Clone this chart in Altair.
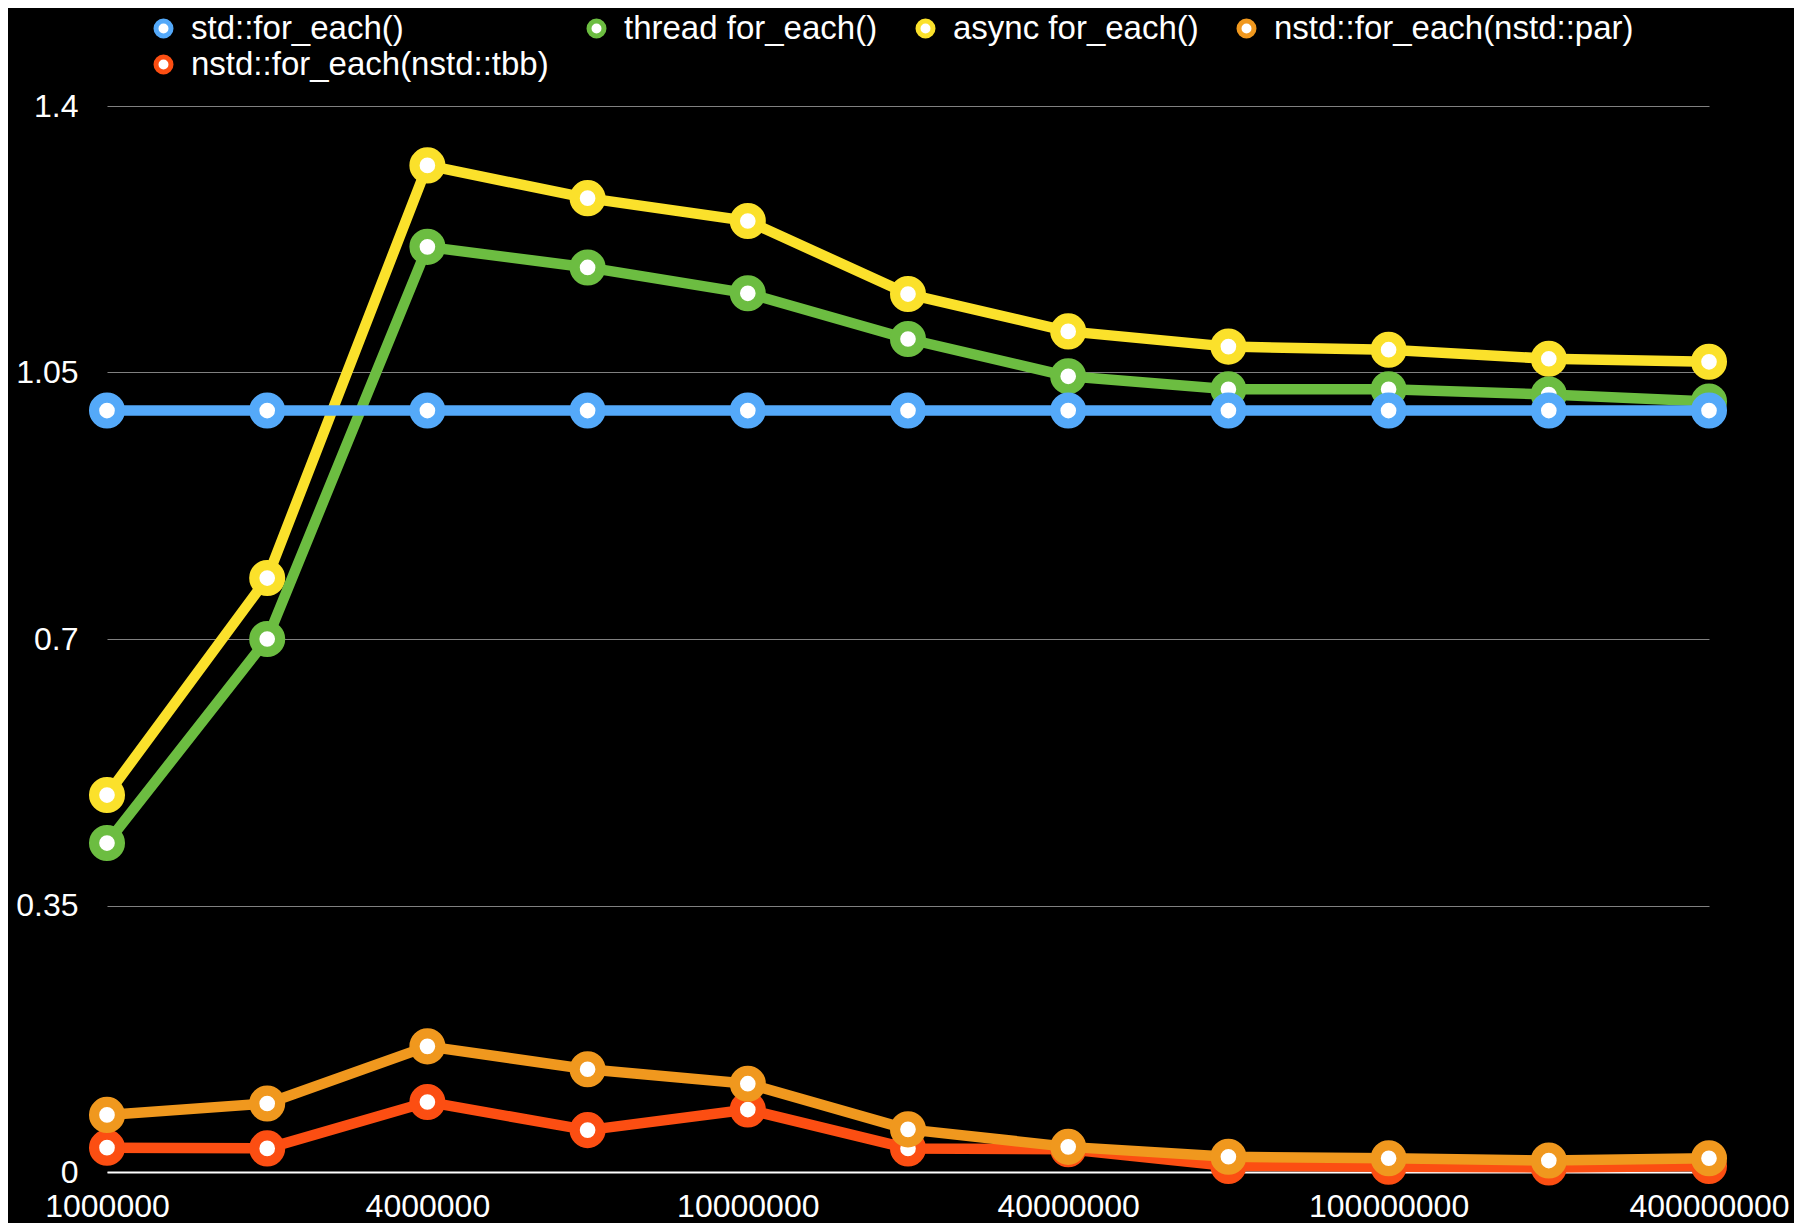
import altair as alt
import pandas as pd

sizes = ["1000000", "2000000", "4000000", "6000000", "10000000", "20000000",
         "40000000", "60000000", "100000000", "200000000", "400000000"]
labeled_sizes = ["1000000", "4000000", "10000000", "40000000", "100000000", "400000000"]

series_names = ["\u00a0std::for_each()", "thread for_each()", "async for_each()",
                "nstd::for_each(nstd::par)", "nstd::for_each(nstd::tbb)"]
series_colors = ["#54A9F9", "#6CBD41", "#FBE12B", "#F0981E", "#FC4E12"]

std_vals = [1.0, 1.0, 1.0, 1.0, 1.0, 1.0, 1.0, 1.0, 1.0, 1.0, 1.0]
thread_vals = [0.432, 0.700, 1.215, 1.188, 1.154, 1.094, 1.045, 1.028, 1.028, 1.021, 1.012]
async_vals = [0.495, 0.780, 1.322, 1.279, 1.249, 1.153, 1.104, 1.084, 1.080, 1.068, 1.064]
par_vals = [0.075, 0.090, 0.165, 0.135, 0.116, 0.056, 0.033, 0.020, 0.018, 0.015, 0.018]
tbb_vals = [0.032, 0.031, 0.092, 0.055, 0.082, 0.031, 0.030, 0.008, 0.007, 0.006, 0.008]

y_ticks = [0, 0.35, 0.7, 1.05, 1.4]

all_vals = [std_vals, thread_vals, async_vals, par_vals, tbb_vals]
rows = []
for name, vals in zip(series_names, all_vals):
    for s, v in zip(sizes, vals):
        rows.append({"size": s, "value": v, "series": name})
df = pd.DataFrame(rows)

FONT = "Liberation Sans"

x_enc = alt.X("size:N", sort=sizes, title=None,
              scale=alt.Scale(type="point", padding=0),
              axis=alt.Axis(values=labeled_sizes, labelAngle=0, ticks=False, tickSize=0,
                            labelPadding=19, labelFont=FONT, labelFontSize=32,
                            labelColor="white", domainColor="white", domainWidth=2,
                            grid=False, labelBaseline="top", labelOverlap=False))
y_enc = alt.Y("value:Q", title=None,
              scale=alt.Scale(domain=[0, 1.4], nice=False, zero=True),
              axis=alt.Axis(values=y_ticks, labelExpr="toString(datum.value)",
                            ticks=False, tickSize=0, domain=False,
                            labelPadding=29, labelFont=FONT, labelFontSize=32,
                            labelColor="white", grid=True, gridColor="#808080",
                            gridWidth=1))
color_enc = alt.Color("series:N", sort=series_names,
                      scale=alt.Scale(domain=series_names, range=series_colors),
                      legend=alt.Legend(title=None, orient="none", legendX=40, legendY=-94,
                                        direction="horizontal", columns=4,
                                        columnPadding=30, rowPadding=1, padding=0,
                                        labelFont=FONT, labelFontSize=33,
                                        labelColor="white", labelLimit=0,
                                        labelOffset=11, symbolType="circle",
                                        symbolSize=225, symbolStrokeWidth=5,
                                        symbolFillColor="white"))

layers = []
for name in reversed(series_names):
    base = alt.Chart(df).transform_filter(alt.datum.series == name)
    line = base.mark_line(strokeWidth=10.5, strokeJoin="round").encode(
        x=x_enc, y=y_enc, color=color_enc)
    pts = base.mark_point(filled=False, fill="white", fillOpacity=1, opacity=1,
                          strokeWidth=10.2, size=668, shape="circle").encode(
        x=x_enc, y=y_enc, color=color_enc)
    layers += [line, pts]

chart = alt.layer(*layers).properties(
    width=1602, height=1066,
    background="black",
    autosize=alt.AutoSizeParams(type="none"),
    padding={"left": 99, "top": 98, "right": 85, "bottom": 58},
).configure_view(stroke=None)

chart.save("out.html", embed_options={"renderer": "svg", "actions": False})
